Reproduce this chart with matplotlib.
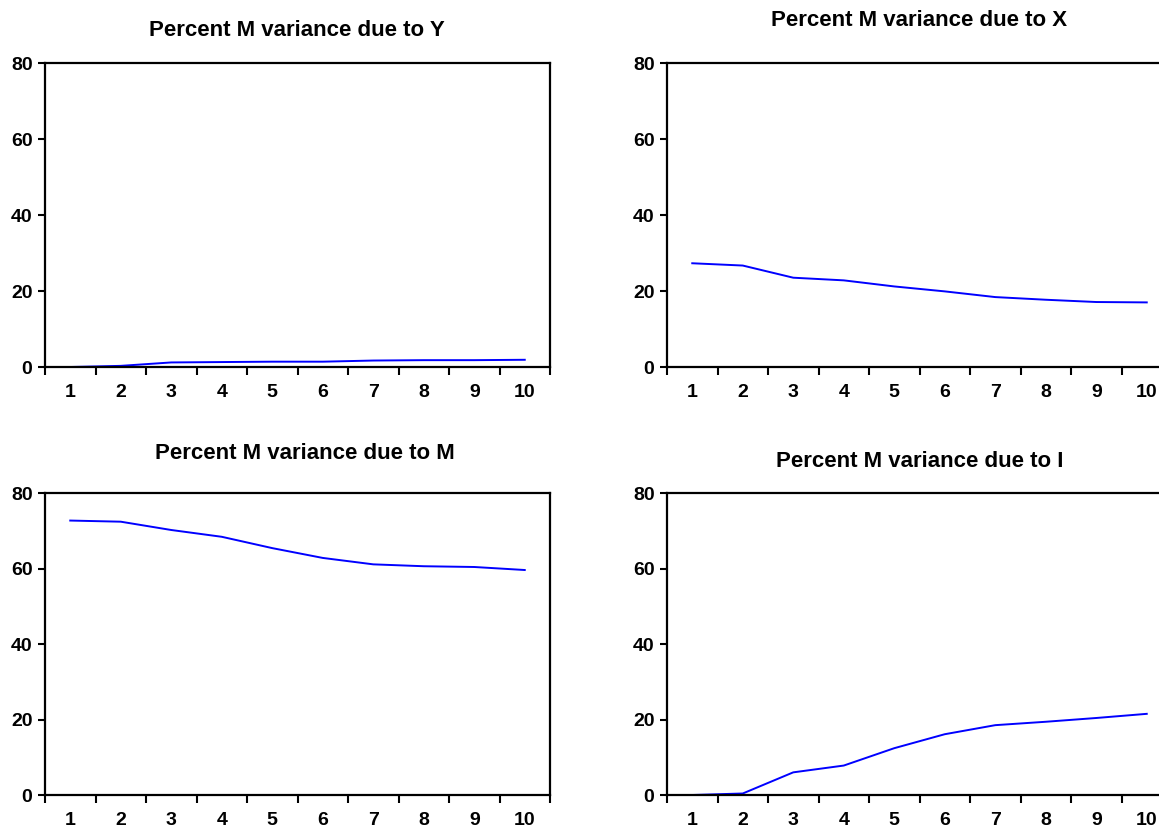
"""EViews-style variance decomposition panels for M."""

import matplotlib

matplotlib.use("Agg")
import matplotlib.pyplot as plt
from matplotlib.ticker import FixedLocator, NullFormatter

plt.rcParams["font.family"] = ["Liberation Sans", "DejaVu Sans"]
plt.rcParams["font.weight"] = "bold"

periods = [1, 2, 3, 4, 5, 6, 7, 8, 9, 10]
due_to_y = [0.0, 0.3, 1.2, 1.3, 1.4, 1.4, 1.7, 1.8, 1.8, 1.9]
due_to_x = [27.3, 26.7, 23.5, 22.8, 21.2, 19.9, 18.4, 17.7, 17.1, 17.0]
due_to_m = [72.7, 72.4, 70.2, 68.4, 65.4, 62.8, 61.1, 60.6, 60.4, 59.6]
due_to_i = [0.0, 0.4, 6.0, 7.8, 12.4, 16.1, 18.5, 19.4, 20.4, 21.5]

titles = [
    "Percent M variance due to Y",
    "Percent M variance due to X",
    "Percent M variance due to M",
    "Percent M variance due to I",
]
series = [due_to_y, due_to_x, due_to_m, due_to_i]
y_ticks = [0, 20, 40, 60, 80]

W, H = 1159, 830
# axes boxes in pixels: left, top, width, height
boxes = [(45, 63, 505, 304), (667, 63, 505, 304), (45, 493, 505, 302), (667, 493, 505, 302)]
title_pos = [(297, 31), (919, 21), (305, 453), (920, 461)]

fig = plt.figure(figsize=(W / 100, H / 100), dpi=100)
for (left, top, w, h), values, title, (tx, ty) in zip(boxes, series, titles, title_pos):
    ax = fig.add_axes([left / W, 1 - (top + h) / H, w / W, h / H])
    ax.plot(periods, values, color="#0000ff", linewidth=1.4)
    ax.set_xlim(0.5, 10.5)
    ax.set_ylim(0, 80)
    ax.set_yticks(y_ticks)
    ax.xaxis.set_major_locator(FixedLocator([p - 0.5 for p in periods] + [10.5]))
    ax.xaxis.set_major_formatter(NullFormatter())
    ax.xaxis.set_minor_locator(FixedLocator(periods))
    ax.set_xticklabels([str(p) for p in periods], minor=True)
    ax.tick_params(axis="x", which="major", direction="out", length=6, width=1.5)
    ax.tick_params(axis="x", which="minor", length=0, pad=12, labelsize=14)
    ax.tick_params(axis="y", direction="out", length=5, width=1.5, pad=4, labelsize=14)
    for spine in ax.spines.values():
        spine.set_linewidth(1.6)
        spine.set_color("black")
    fig.text(tx / W, 1 - ty / H, title, ha="center", va="center", fontsize=16, fontweight="bold")

fig.savefig("out.png", dpi=100)
